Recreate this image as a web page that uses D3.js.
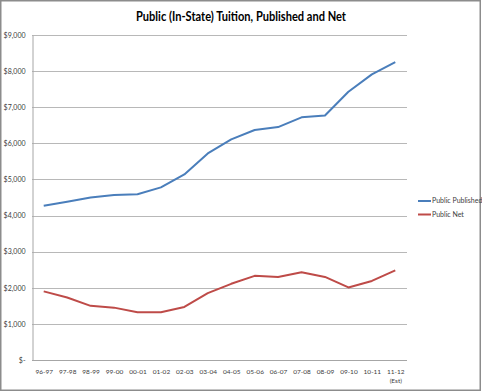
<!DOCTYPE html>
<html><head><meta charset="utf-8">
<script src="https://cdn.jsdelivr.net/npm/d3@7"></script>
<style>
html,body{margin:0;padding:0;background:#fff;}
svg{display:block;}
</style></head>
<body>
<svg id="chart" width="482" height="392"></svg>
<script>
const title = "Public (In-State) Tuition, Published and Net";
const categories = ["96-97","97-98","98-99","99-00","00-01","01-02","02-03","03-04","04-05","05-06","06-07","07-08","08-09","09-10","10-11","11-12"];
const categorySub = ["","","","","","","","","","","","","","","","(Est)"];
const publicPublished = [4270,4380,4500,4570,4590,4780,5140,5720,6110,6370,6450,6720,6770,7430,7910,8250];
const publicNet = [1900,1730,1500,1450,1320,1320,1470,1850,2110,2330,2300,2430,2300,2010,2190,2480];
const yTicks = [0,1000,2000,3000,4000,5000,6000,7000,8000,9000];
const seriesNames = ["Public Published","Public Net"];
const seriesColors = ["#4a7ebb","#be4b48"];

(function(){
const svg = d3.select("#chart");
const W = 482, H = 392;
const pL = 32, pR = 407, pT = 35, pB = 360;
const font = "Lato,'Open Sans',sans-serif";

svg.append("rect").attr("x",0.75).attr("y",0.75).attr("width",W-2.5).attr("height",H-2.5)
  .attr("fill","#fff").attr("stroke","#8c8c8c").attr("stroke-width",1.5);

const x = d3.scalePoint().domain(categories).range([pL,pR]).padding(0.5);
const y = d3.scaleLinear().domain([0,9000]).range([pB,pT]);

const fmt = v => v === 0 ? "$-" : "$" + d3.format(",")(v);

svg.append("g").selectAll("line").data(yTicks.filter(d=>d>0)).join("line")
  .attr("x1",pL).attr("x2",pR)
  .attr("y1",d=>Math.round(y(d))+0.5).attr("y2",d=>Math.round(y(d))+0.5)
  .attr("stroke","#b8b8b8").attr("stroke-width",1);

const yAxis = d3.axisLeft(y).tickValues(yTicks).tickFormat(fmt).tickSize(0).tickPadding(7);
const gy = svg.append("g").attr("transform",`translate(${pL+0.5},0)`).call(yAxis);
gy.select(".domain").attr("stroke","#a6a6a6");
gy.selectAll("text").attr("font-family",font).attr("font-size","7px").attr("fill","#404040");

const xAxis = d3.axisBottom(x).tickSize(0).tickPadding(9);
const gx = svg.append("g").attr("transform",`translate(0,${Math.round(pB)+0.5})`).call(xAxis);
gx.select(".domain").attr("stroke","#a6a6a6").attr("d",`M${pL},0H${pR}`);
gx.selectAll("text").attr("font-family",font).attr("font-size","6.5px").attr("fill","#404040");
gx.selectAll(".tick").each(function(d,i){
  if(categorySub[i]) d3.select(this).append("text").attr("y",18).attr("dy","0.71em")
    .attr("text-anchor","middle").attr("fill","#404040")
    .attr("font-family",font).attr("font-size","6.5px").text(categorySub[i]);
});

const line = d3.line().x((d,i)=>x(categories[i])).y(d=>y(d));
[publicPublished, publicNet].forEach((s,k)=>{
  svg.append("path").datum(s).attr("d",line).attr("fill","none")
    .attr("stroke",seriesColors[k]).attr("stroke-width",2).attr("stroke-linejoin","round");
});

const lg = svg.append("g");
seriesNames.forEach((n,k)=>{
  const ly = 201 + k*13.5;
  lg.append("line").attr("x1",418).attr("x2",431).attr("y1",ly).attr("y2",ly)
    .attr("stroke",seriesColors[k]).attr("stroke-width",2);
  lg.append("text").attr("x",432).attr("y",ly).attr("dy","0.35em")
    .attr("font-family",font).attr("font-size","7px").attr("fill","#404040").text(n);
});

svg.append("text").attr("x",241).attr("y",16).attr("dy","0.35em").attr("text-anchor","middle")
  .attr("font-family",font).attr("font-weight","bold").attr("font-size","13px")
  .attr("textLength",210).attr("lengthAdjust","spacingAndGlyphs")
  .attr("fill","#000").text(title);
})();
</script>
</body></html>
